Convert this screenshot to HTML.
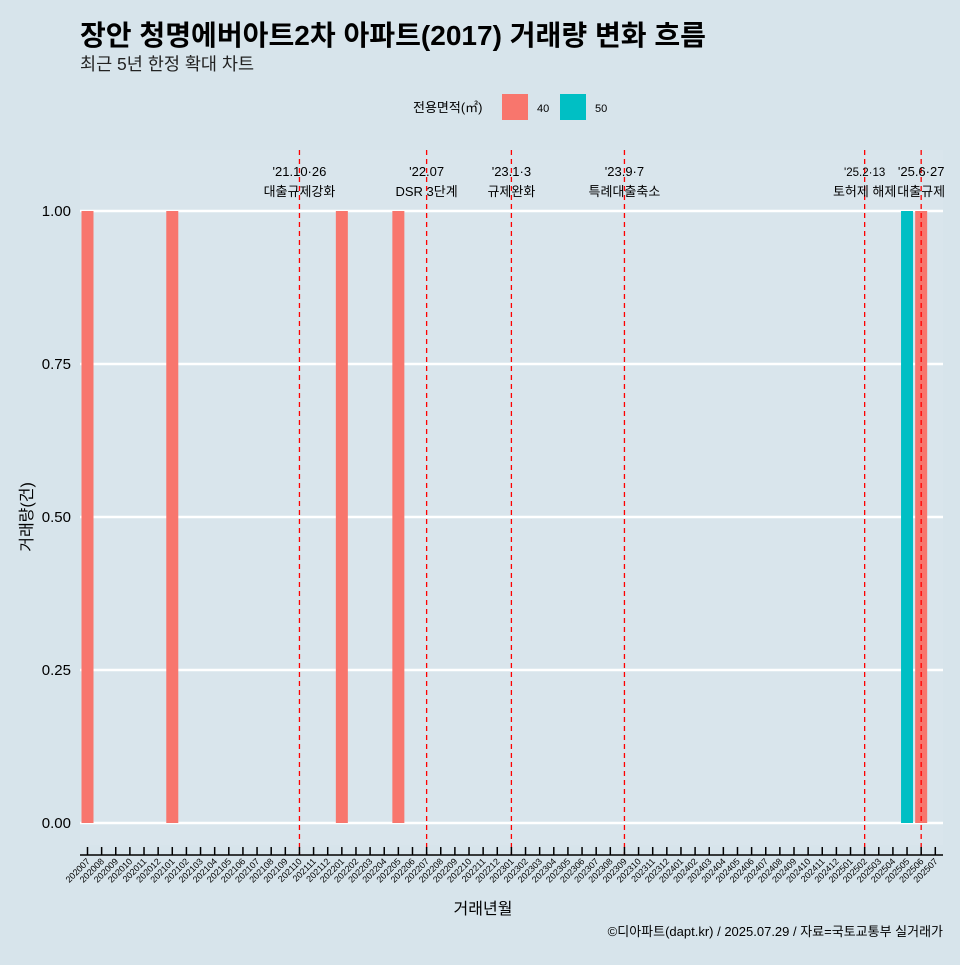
<!DOCTYPE html>
<html><head><meta charset="utf-8"><style>
body{margin:0;background:#d7e4eb;font-family:"Liberation Sans","Noto Sans CJK KR",sans-serif}
</style></head><body>
<svg id="c" width="960" height="960" xmlns="http://www.w3.org/2000/svg" style="font-family:'Liberation Sans','Noto Sans CJK KR',sans-serif">
<rect width="960" height="960" fill="#d7e4eb"/>
<text x="80" y="45" font-size="28" font-weight="bold" fill="#000" textLength="626" lengthAdjust="spacingAndGlyphs">장안 청명에버아트2차 아파트(2017) 거래량 변화 흐름</text>
<text x="80" y="70" font-size="17.5" fill="#222">최근 5년 한정 확대 차트</text>
<g>
<text x="413" y="112" font-size="13">전용면적(㎡)</text>
<rect x="502" y="94" width="26" height="26" fill="#f8766d"/>
<text x="537" y="112" font-size="11">40</text>
<rect x="560" y="94" width="26" height="26" fill="#00bfc4"/>
<text x="595" y="112" font-size="11">50</text>
</g>
<rect x="80" y="150" width="863" height="695" fill="#d9e5ec"/>
<g id="grid"></g><g id="bars"></g><g id="vlines"></g><g id="xaxis"></g><g id="yaxis"></g>
<text x="483" y="914" font-size="16" text-anchor="middle">거래년월</text>
<text x="0" y="0" font-size="16" text-anchor="middle" transform="translate(32,517) rotate(-90)">거래량(건)</text>
<text x="943" y="936" font-size="13" text-anchor="end">©디아파트(dapt.kr) / 2025.07.29 / 자료=국토교통부 실거래가</text>
</svg>
<script>
const months=[];for(let y=2020;y<=2025;y++)for(let m=1;m<=12;m++){const k=y*100+m;if(k>=202007&&k<=202507)months.push(String(k));}
const bar40Months=["202007","202101","202201","202205","202506"];
const bar40Values=[1,1,1,1,1];
const bar50Months=["202505"];
const bar50Values=[1];
const yTicks=[0,0.25,0.5,0.75,1];
const yTickLabels=["0.00","0.25","0.50","0.75","1.00"];
const eventMonths=["202110","202207","202301","202309","202502","202506"];
const eventDates=["'21.10·26","'22.07","'23.1·3","'23.9·7","'25.2·13","'25.6·27"];
const eventTexts=["대출규제강화","DSR 3단계","규제완화","특례대출축소","토허제 해제","대출규제"];
const NS="http://www.w3.org/2000/svg";
const x=i=>87.5+i*14.13;const y=v=>823-v*612;
function mk(p,t,a){const e=document.createElementNS(NS,t);for(const k in a)e.setAttribute(k,a[k]);document.getElementById(p).appendChild(e);return e;}
yTicks.forEach((v,i)=>{
 const l=mk("grid","line",{x1:80,x2:943,y1:y(v),y2:y(v),stroke:"#fff","stroke-width":2.5});
 
 
 const t=mk("yaxis","text",{x:71,y:y(v)+5,"text-anchor":"end","font-size":15});t.textContent=yTickLabels[i];
 
 
});
function bars(ms,vs,col,off,nm){ms.forEach((m,i)=>{const idx=months.indexOf(m);
 const r=mk("bars","rect",{x:x(idx)-6+off,y:y(vs[i]),width:12,height:y(0)-y(vs[i]),fill:col});
 
 });}
bars(bar40Months,bar40Values,"#f8766d",0,"bar-40");
bars(bar50Months,bar50Values,"#00bfc4",0,"bar-50");
eventMonths.forEach((m,i)=>{const xx=x(months.indexOf(m));
 const l=mk("vlines","line",{x1:xx,x2:xx,y1:150,y2:855,stroke:"#f00","stroke-width":1.3,"stroke-dasharray":"5,4"});
 
 
 const fs=i===4?11.5:13;
 const d=mk("vlines","text",{x:xx,y:176,"text-anchor":"middle","font-size":fs});d.textContent=eventDates[i];
 
 
 const t=mk("vlines","text",{x:xx,y:196,"text-anchor":"middle","font-size":13});t.textContent=eventTexts[i];
 
 
});
const ax=mk("xaxis","line",{x1:80,x2:943,y1:855,y2:855,stroke:"#000","stroke-width":1.5});


months.forEach((m,i)=>{const xx=x(i);
 const t=mk("xaxis","line",{x1:xx,x2:xx,y1:847,y2:855,stroke:"#000","stroke-width":1.5});
 
 
 const l=mk("xaxis","text",{x:xx+3,y:862,"text-anchor":"end","font-size":9,transform:`rotate(-45 ${xx+3} 862)`});l.textContent=m;
 
 
});
</script>
</body></html>
